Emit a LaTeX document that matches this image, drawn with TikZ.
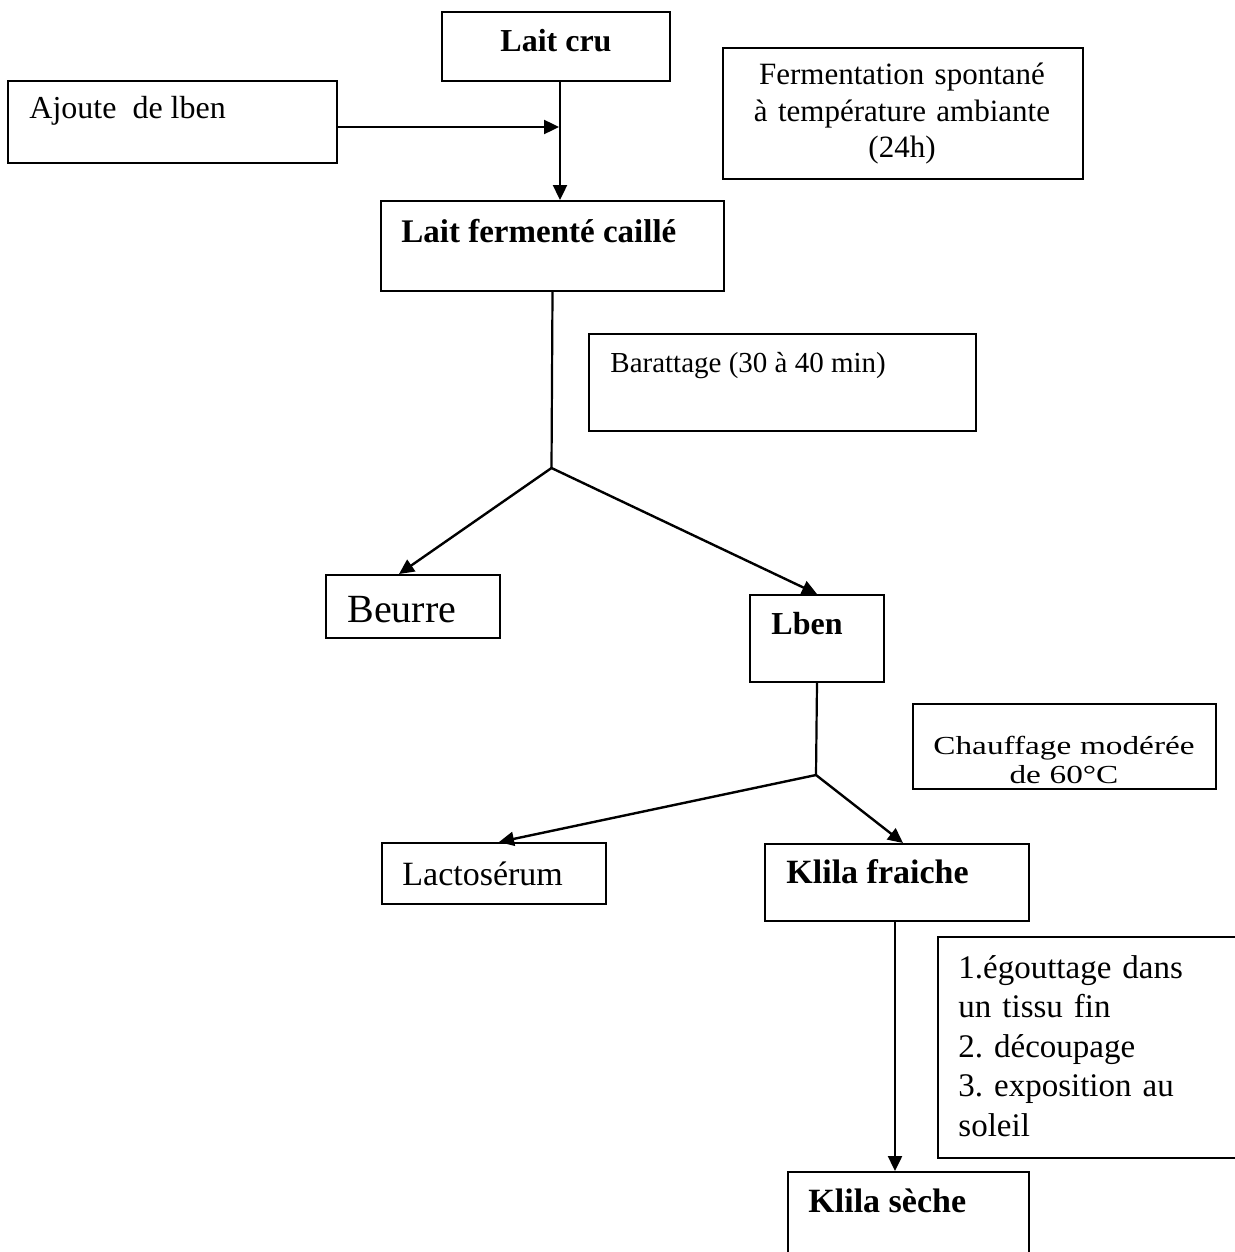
\documentclass[tikz,border=0pt]{standalone}
\usepackage{fontspec}
\setmainfont{Liberation Serif}
\newfontfamily\widefont[FakeStretch=1.28]{Liberation Serif}
\usetikzlibrary{calc,arrows.meta}
\frenchspacing

\begin{document}
\begin{tikzpicture}[x=0.5pt,y=-0.5pt,
        box/.style={draw, line width=1pt, inner sep=0pt, anchor=north west},
        txt/.style={inner sep=0pt, anchor=base west, font=\fontsize{16}{19}\selectfont},
        ttl/.style={txt, font=\fontsize{16}{19}\selectfont\bfseries},
        arr/.style={line width=1.2pt, -{Triangle[length=7.5pt,width=7pt]}},
        lin/.style={line width=1.1pt}]
        \useasboundingbox (0,0) rectangle (1235,1252);
        \clip (0,0) rectangle (1235,1252);

        % boxes
        \node[box, minimum width=114pt, minimum height=34.5pt] (cru) at (441,11) {};
        \node[box, minimum width=164.5pt, minimum height=41pt] (ajout) at (7,80) {};
        \node[box, minimum width=180pt, minimum height=65.5pt] (ferm) at (722,47) {};
        \node[box, minimum width=171.5pt, minimum height=45pt] (fermente) at (380,200) {};
        \node[box, minimum width=193.5pt, minimum height=48.5pt] (barat) at (588,333) {};
        \node[box, minimum width=87pt, minimum height=31.5pt] (beurre) at (325,574) {};
        \node[box, minimum width=67pt, minimum height=43.5pt] (lben) at (749,594) {};
        \node[box, minimum width=151.5pt, minimum height=42.5pt] (chauf) at (912,703) {};
        \node[box, minimum width=112pt, minimum height=30.5pt] (lacto) at (381,842) {};
        \node[box, minimum width=132pt, minimum height=38.5pt] (fraiche) at (764,843) {};
        \node[box, minimum width=161.5pt, minimum height=110.5pt] (egout) at (937,936) {};
        \node[box, minimum width=120.5pt, minimum height=50pt] (seche) at (787,1171) {};

        % texts
        \node[ttl] (cru-t) at (500,52) {Lait cru};
        \node[txt] (ajout-t) at (29,119) {Ajoute\ \ de lben};
        \node[txt, anchor=base, text width=170pt, align=center, font=\fontsize{15.5}{18}\selectfont] (ferm-t) at (902,85) {Fermentation spontané\\à température ambiante\\(24h)};
        \node[ttl, font=\fontsize{16.5}{19}\selectfont\bfseries] (fermente-t) at (401,242) {Lait fermenté caillé};
        \node[txt, font=\fontsize{14.5}{17}\selectfont] (barat-t) at (610,372) {Barattage (30 à 40 min)};
        \node[txt, font=\fontsize{20}{24}\selectfont] (beurre-t) at (347,622) {Beurre};
        \node[ttl] (lben-t) at (771,634) {Lben};
        \node[txt, anchor=base, text width=150pt, align=center, font=\fontsize{13}{14.5}\selectfont\widefont] (chauf-t) at (1064,754) {Chauffage modérée\\de 60°C};
        \node[txt, font=\fontsize{17}{20}\selectfont] (lacto-t) at (402,885) {Lactosérum};
        \node[ttl, font=\fontsize{17}{20}\selectfont\bfseries] (fraiche-t) at (786,883) {Klila fraiche};
        \node[txt, text width=150pt, align=left, font=\fontsize{16.5}{19.75}\selectfont] (egout-t) at (958,978) {1.égouttage dans\\un tissu fin\\2. découpage\\3. exposition au\\soleil};
        \node[ttl, font=\fontsize{17}{20}\selectfont\bfseries] (seche-t) at (808,1212) {Klila sèche};

        % arrows
        \coordinate (jn) at (559,127);
        \draw[arr] (ajout.east |- jn) -- (jn);
        \draw[arr] ([xshift=2pt]cru.south) -- ([xshift=2pt]cru.south |- fermente.north);

        \coordinate (s1) at (551.5,468);
        \draw[lin] (fermente.south) -- (s1);
        \draw[arr] (s1) -- ([xshift=-7pt]beurre.north);
        \draw[arr] (s1) -- (lben.north);

        \coordinate (s2) at (816,775);
        \draw[lin] (lben.south) -- (s2);
        \draw[arr] (s2) -- ([xshift=2.5pt]lacto.north);
        \draw[arr] (s2) -- ([xshift=3pt]fraiche.north);
        \draw[arr] ([xshift=-1pt]fraiche.south) -- ([xshift=-1pt]fraiche.south |- seche.north);
    \end{tikzpicture}
\end{document}
